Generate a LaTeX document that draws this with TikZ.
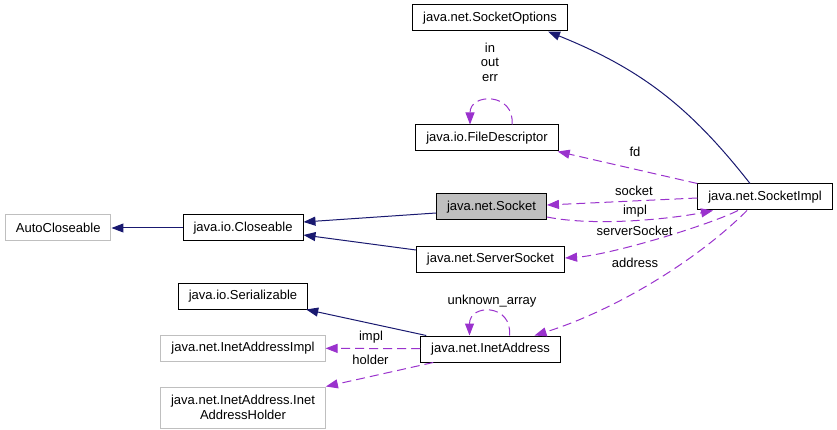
\documentclass[tikz,border=0pt]{standalone}
\usepackage{fontspec}
\setmainfont{Liberation Sans}
\usetikzlibrary{arrows.meta,positioning}
\definecolor{inhblue}{HTML}{191970}
\definecolor{usepurple}{HTML}{9A32CD}
\definecolor{undoc}{HTML}{BFBFBF}

\begin{document}
\begin{tikzpicture}[x=1pt, y=-1pt,
    cls/.style={draw=black, line width=1pt, minimum height=26pt, inner xsep=10.5pt,
                inner ysep=2pt, align=center, font=\fontsize{13}{15}\selectfont},
    ext/.style={cls, draw=undoc},
    inh/.style={-{Triangle[length=12pt,width=9pt]}, inhblue, line width=1pt},
    use/.style={-{Triangle[length=12pt,width=9pt]}, usepurple, line width=1pt,
                dash pattern=on 9pt off 5pt},
    lbl/.style={inner sep=0pt, text height=9.5pt, text depth=2.5pt,
                font=\fontsize{13}{14.7}\selectfont}]
    \useasboundingbox (0,0) rectangle (837,430);
    % middle column
    \node[cls] (sockopts) at (490,18) {java.net.SocketOptions};
    \node[cls, below=93pt of sockopts, xshift=-3pt] (fdesc) {java.io.FileDescriptor};
    \node[cls, below=42pt of fdesc, xshift=4.5pt, fill=undoc] (socket) {java.net.Socket};
    \node[cls, below=25pt of socket, xshift=-1pt] (srvsock) {java.net.ServerSocket};
    \node[cls, below=63pt of srvsock] (inetaddr) {java.net.InetAddress};
    \node[cls] (sockimpl) at (765,197) {java.net.SocketImpl};
    % left columns
    \node[cls] (closeable) at (243,228) {java.io.Closeable};
    \node[ext, left=71pt of closeable] (autoclose) {AutoCloseable};
    \node[cls, below=41pt of closeable] (serial) {java.io.Serializable};
    \node[ext, below=25pt of serial] (inetimpl) {java.net.InetAddressImpl};
    \node[ext, below=25pt of inetimpl, minimum height=41pt] (holder) {java.net.InetAddress.Inet\\AddressHolder};
    % inheritance
    \draw[inh] (closeable) -- (autoclose);
    \draw[inh] ([yshift=-6pt]socket.west) -- ([yshift=6pt]closeable.east);
    \draw[inh] ([yshift=9pt]srvsock.west) -- ([yshift=-7pt]closeable.east);
    \draw[inh] ([xshift=6pt]inetaddr.north west) -- ([xshift=-2pt]serial.south east);
    \draw[inh] ([xshift=-15pt]sockimpl.north) to[bend right=15] ([xshift=58pt]sockopts.south);
    % usage
    \draw[use] ([xshift=25pt]fdesc.north) .. controls +(3,-32) and +(0,-32) .. ([xshift=-17pt]fdesc.north);
    \node[lbl, align=center] (lio) at (490,78) {in\\out\\err};
    \draw[use] (sockimpl.north west) -- ([xshift=-1pt]fdesc.south east);
    \node[lbl] (lfd) at (635,153) {fd};
    \draw[use] ([yshift=-1pt]sockimpl.west) -- ([yshift=2pt]socket.east);
    \node[lbl] (lsocket) at (634,192) {socket};
    \draw[use] ([yshift=-10pt]socket.east) .. controls +(50,10) and +(-40,8) .. ([xshift=-52pt]sockimpl.south);
    \node[lbl] (limpl) at (635,211) {impl};
    \draw[use] ([xshift=-27pt]sockimpl.south) .. controls +(-30,15) and +(45,-3) .. ([yshift=1pt]srvsock.east);
    \node[lbl] (lsrv) at (634.5,232) {serverSocket};
    \draw[use] ([xshift=-18pt]sockimpl.south) .. controls +(-50,50) and +(80,-25) .. ([xshift=44pt]inetaddr.north);
    \node[lbl] (laddr) at (635,264) {address};
    \draw[use] ([xshift=19pt]inetaddr.north) .. controls +(3,-32) and +(0,-32) .. ([xshift=-21pt]inetaddr.north);
    \node[lbl] (lunk) at (492,301) {unknown\_array};
    \draw[use] (inetaddr) -- (inetimpl);
    \node[lbl] (limpl2) at (371,336.5) {impl};
    \draw[use] ([xshift=13pt]inetaddr.south west) -- (holder.north east);
    \node[lbl] (lholder) at (370.5,361) {holder};
\end{tikzpicture}
\end{document}
